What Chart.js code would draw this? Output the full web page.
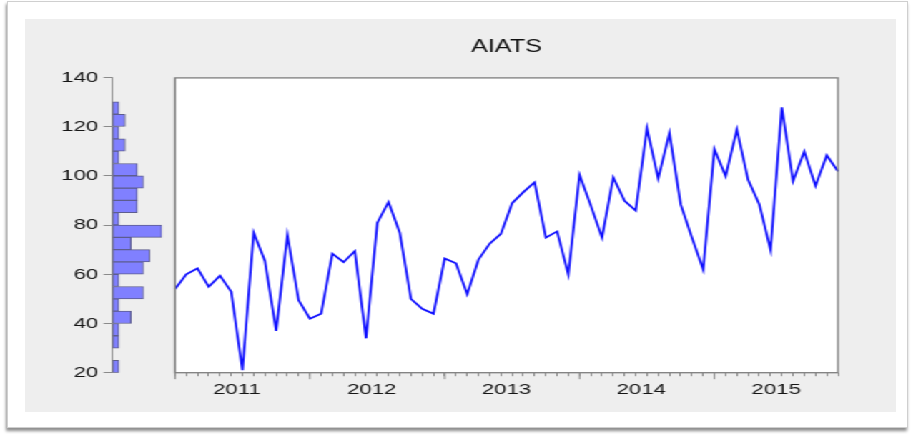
<!DOCTYPE html>
<html><head><meta charset="utf-8">
<script src="https://cdn.jsdelivr.net/npm/chart.js@4.4.1/dist/chart.umd.min.js"></script>
<style>
html,body{margin:0;padding:0;background:#fff;width:911px;height:434px;overflow:hidden;}
#card{position:absolute;left:7px;top:1px;width:899px;height:425px;background:#fff;border:1px solid #cfcfcf;box-shadow:-1px 3px 3px rgba(0,0,0,0.45);}
#panel{position:absolute;left:25px;top:19px;width:871px;height:393px;background:#eeeeee;}
#stage{position:absolute;left:0;top:0;width:637px;height:434px;transform:scaleX(1.43);transform-origin:0 0;}
#hist,#line{position:absolute;left:0;top:0;}
</style></head><body>
<div id="card"></div><div id="panel"></div>
<div id="stage"><canvas id="hist" width="125" height="434"></canvas><canvas id="line" width="637" height="434"></canvas></div>
<script>
const years = ['2011','2012','2013','2014','2015'];
const monthCodes = ['01','02','03','04','05','06','07','08','09','10','11','12'];
const categories = [];
years.forEach(y => monthCodes.forEach(m => categories.push(y + 'M' + m)));

const aiats = [54, 60, 62.5, 55, 59.5, 53, 21, 77, 65.5, 37,
               76, 49.5, 42, 44, 68.5, 65, 69.5, 34, 81, 89.5,
               77, 50, 46, 44, 66.5, 64.5, 52, 66, 72.5, 76.5,
               89, 93.5, 97.5, 75, 77.5, 60, 100.5, 88, 75, 99.5,
               90, 86, 119.5, 99, 117.5, 88.5, 75, 62, 111, 100,
               119, 98.5, 88.5, 70, 128, 98, 110, 96, 108.5, 102];

const yTickValues = [20, 40, 60, 80, 100, 120, 140];
const histBinStart = [20, 25, 30, 35, 40, 45, 50, 55, 60, 65, 70, 75, 80, 85, 90, 95, 100, 105, 110, 115, 120, 125];
const histCounts   = [1, 0, 1, 1, 3, 1, 5, 1, 5, 6, 3, 8, 1, 4, 4, 5, 4, 1, 2, 1, 2, 1];
const histBinWidth = 5;

const FONT = '"Liberation Sans", Arial, Helvetica, sans-serif';
const AXIS_GRAY = '#8a8a8a';
const TEXT = '#151515';

// Histogram (marginal distribution)
new Chart(document.getElementById('hist'), {
  type: 'bar',
  data: {
    datasets: [{
      data: histCounts.map((c, i) => ({ x: c, y: histBinStart[i] + histBinWidth / 2 })),
      backgroundColor: '#8080ff',
      borderColor: '#5d5d8f',
      borderWidth: 1,
      borderSkipped: false,
      barPercentage: 1,
      categoryPercentage: 1
    }]
  },
  options: {
    indexAxis: 'y',
    responsive: false,
    animation: false,
    events: [],
    layout: { padding: { left: 0, right: 11.7, top: 77.3, bottom: 61.3 } },
    plugins: { legend: { display: false }, tooltip: { enabled: false } },
    scales: {
      x: { type: 'linear', min: 0, max: 8, display: false },
      y: {
        type: 'linear', min: 20, max: 140, position: 'left', offset: false,
        afterFit: s => { s.width = 78.8; },
        afterBuildTicks: s => { s.ticks = yTickValues.map(v => ({ value: v })); },
        ticks: { font: { family: FONT, size: 15.5 }, color: TEXT, padding: 3.8 },
        grid: { drawOnChartArea: false, drawTicks: true, tickLength: 6.3, tickColor: AXIS_GRAY, offset: false },
        border: { display: true, color: AXIS_GRAY, width: 1 }
      }
    }
  }
});

// Plot frame plugin
const framePlugin = {
  id: 'frame',
  beforeDraw(chart) {
    const a = chart.chartArea, ctx = chart.ctx;
    ctx.save();
    ctx.fillStyle = '#ffffff';
    ctx.fillRect(a.left, a.top, a.right - a.left, a.bottom - a.top);
    ctx.restore();
  },
  afterDatasetsDraw(chart) {
    const a = chart.chartArea, ctx = chart.ctx;
    ctx.save();
    ctx.strokeStyle = '#7e7e7e';
    ctx.lineWidth = 1.3;
    ctx.strokeRect(a.left, a.top, a.right - a.left, a.bottom - a.top);
    ctx.restore();
  }
};
// Longer tick marks at the start of each year
const majorTickPlugin = {
  id: 'majorTicks',
  afterDraw(chart) {
    const xs = chart.scales.x, ctx = chart.ctx;
    ctx.save();
    ctx.strokeStyle = AXIS_GRAY;
    ctx.lineWidth = 1;
    categories.forEach((c, i) => {
      if (c.endsWith('M01')) {
        const px = xs.getPixelForValue(i);
        ctx.beginPath();
        ctx.moveTo(px, xs.top);
        ctx.lineTo(px, xs.top + 6.5);
        ctx.stroke();
      }
    });
    ctx.restore();
  }
};

new Chart(document.getElementById('line'), {
  type: 'line',
  data: {
    labels: categories,
    datasets: [{
      data: aiats,
      borderColor: '#0f0fff',
      borderWidth: 1.7,
      pointRadius: 0,
      tension: 0,
      fill: false
    }]
  },
  options: {
    responsive: false,
    animation: false,
    events: [],
    layout: { padding: { left: 122.4, right: 51, top: 36.8, bottom: 21.3 } },
    plugins: {
      legend: { display: false },
      tooltip: { enabled: false },
      title: {
        display: true, text: 'AIATS', fullSize: false,
        font: { family: FONT, size: 17.5, weight: 'normal' }, color: '#111111',
        padding: { top: 0, bottom: 20.1 }
      }
    },
    scales: {
      x: {
        type: 'category', offset: false,
        afterFit: s => { s.height = 40; },
        ticks: {
          autoSkip: false, maxRotation: 0, minRotation: 0,
          font: { family: FONT, size: 15.5 }, color: TEXT, padding: 4,
          labelOffset: 3.93,
          callback: (v, i) => categories[i].endsWith('M06') ? categories[i].slice(0, 4) : ''
        },
        grid: { drawOnChartArea: false, drawTicks: true, tickLength: 3.5, tickColor: AXIS_GRAY, offset: false },
        border: { display: false }
      },
      y: { type: 'linear', min: 20, max: 140, display: false }
    }
  },
  plugins: [framePlugin, majorTickPlugin]
});
</script>
</body></html>
